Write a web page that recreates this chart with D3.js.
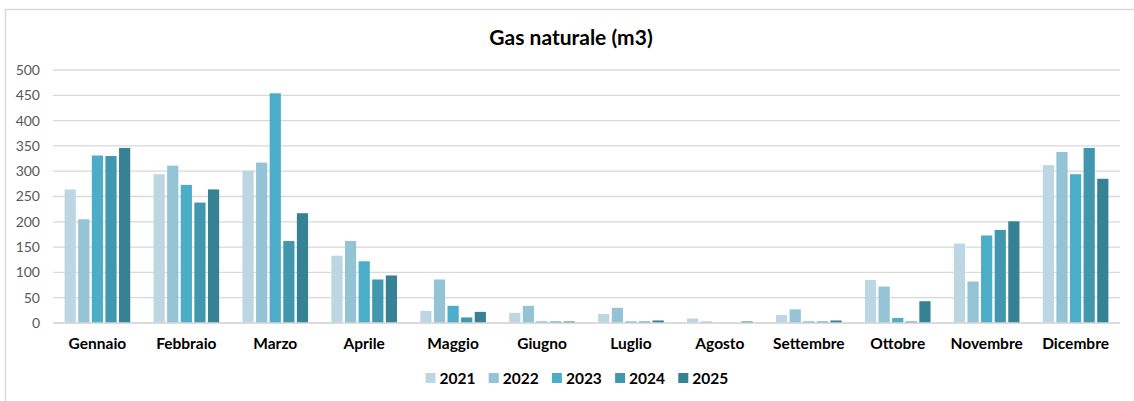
<!DOCTYPE html>
<html>
<head>
<meta charset="utf-8">
<title>Gas naturale (m3)</title>
<style>
    body {
        margin: 0;
        background: white;
        font-family: Lato, "Open Sans", sans-serif;
    }

    .grid line {
        stroke: #d9d9d9;
        stroke-width: 1.3px;
    }

    .y-axis text {
        fill: #595959;
        font-size: 14px;
    }

    .x-axis text {
        fill: #000;
        font-size: 15.5px;
        font-weight: bold;
    }
</style>
</head>
<body>
<svg id="chart" width="1134" height="401"></svg>
<script src="https://d3js.org/d3.v7.min.js"></script>
<script>
var months = ["Gennaio", "Febbraio", "Marzo", "Aprile", "Maggio", "Giugno",
    "Luglio", "Agosto", "Settembre", "Ottobre", "Novembre", "Dicembre"];
var years = ["2021", "2022", "2023", "2024", "2025"];
var colors = ["#bcd7e3", "#93c3d5", "#4badc7", "#4198ae", "#378195"];

var v2021 = [264, 294, 301, 133, 24, 20, 18, 9, 16, 85, 157, 312];
var v2022 = [205, 311, 317, 162, 86, 34, 30, 3, 27, 72, 82, 338];
var v2023 = [331, 273, 454, 122, 34, 3, 3, 0, 3, 10, 173, 294];
var v2024 = [330, 238, 162, 86, 11, 3, 3, 0, 3, 3, 184, 346];
var v2025 = [346, 264, 217, 94, 22, 3, 5, 3, 5, 43, 201, 285];
var yTicks = [0, 50, 100, 150, 200, 250, 300, 350, 400, 450, 500];

var series = [v2021, v2022, v2023, v2024, v2025];

var svg = d3.select("#chart");

// chart border (Excel style)
svg.append("rect")
    .attr("x", 5.5).attr("y", 9.5)
    .attr("width", 1140).attr("height", 400)
    .attr("fill", "none")
    .attr("stroke", "#d9d9d9")
    .attr("stroke-width", 1.5);

var plotLeft = 53, plotRight = 1120, plotTop = 70, plotBottom = 323;

var x = d3.scaleBand().domain(months).range([plotLeft, plotRight]).paddingInner(0.235).paddingOuter(0.117);
var xs = d3.scaleBand().domain(years).range([0, x.bandwidth()]).padding(0);
var y = d3.scaleLinear().domain([0, 500]).range([plotBottom, plotTop]);

svg.append("g")
    .attr("class", "grid")
    .selectAll("line")
    .data(yTicks)
    .enter().append("line")
    .attr("x1", plotLeft).attr("x2", plotRight)
    .attr("y1", function(d) { return y(d); })
    .attr("y2", function(d) { return y(d); });

var yAxis = svg.append("g")
    .attr("class", "y-axis")
    .attr("transform", "translate(" + (plotLeft - 13) + ",0)")
    .call(d3.axisLeft(y).tickValues(yTicks).tickSize(0).tickPadding(0));
yAxis.select(".domain").remove();
yAxis.selectAll("text").attr("font-family", "Lato, sans-serif");

var groups = svg.append("g")
    .selectAll("g")
    .data(series)
    .enter().append("g")
    .attr("fill", function(d, i) { return colors[i]; });

groups.selectAll("rect")
    .data(function(d, i) { return d.map(function(v, j) { return { m: months[j], yr: years[i], v: v }; }); })
    .enter().append("rect")
    .attr("x", function(d) { return x(d.m) + xs(d.yr) + 1.2; })
    .attr("width", xs.bandwidth() - 2.4)
    .attr("y", function(d) { return y(d.v); })
    .attr("height", function(d) { return y(0) - y(d.v); });

// zero line drawn over bars
svg.append("line")
    .attr("x1", plotLeft).attr("x2", plotRight)
    .attr("y1", y(0)).attr("y2", y(0))
    .attr("stroke", "#d9d9d9").attr("stroke-width", 1.3);

var xAxis = svg.append("g")
    .attr("class", "x-axis")
    .attr("transform", "translate(0," + (plotBottom + 15) + ")")
    .call(d3.axisBottom(x).tickSize(0).tickPadding(0));
xAxis.select(".domain").remove();
xAxis.selectAll("text").attr("font-family", "Lato, sans-serif");

svg.append("text")
    .attr("x", 571).attr("y", 45)
    .attr("text-anchor", "middle")
    .attr("font-size", 21)
    .attr("font-weight", "bold")
    .text("Gas naturale (m3)");

var legend = svg.append("g")
    .selectAll("g")
    .data(years)
    .enter().append("g")
    .attr("transform", function(d, i) { return "translate(" + (425.5 + i * 63.2) + ",373)"; });

legend.append("rect")
    .attr("width", 10).attr("height", 10)
    .attr("fill", function(d, i) { return colors[i]; });

legend.append("text")
    .attr("x", 14).attr("y", 11)
    .attr("font-size", 15.5)
    .attr("font-weight", "bold")
    .text(function(d) { return d; });
</script>
</body>
</html>
